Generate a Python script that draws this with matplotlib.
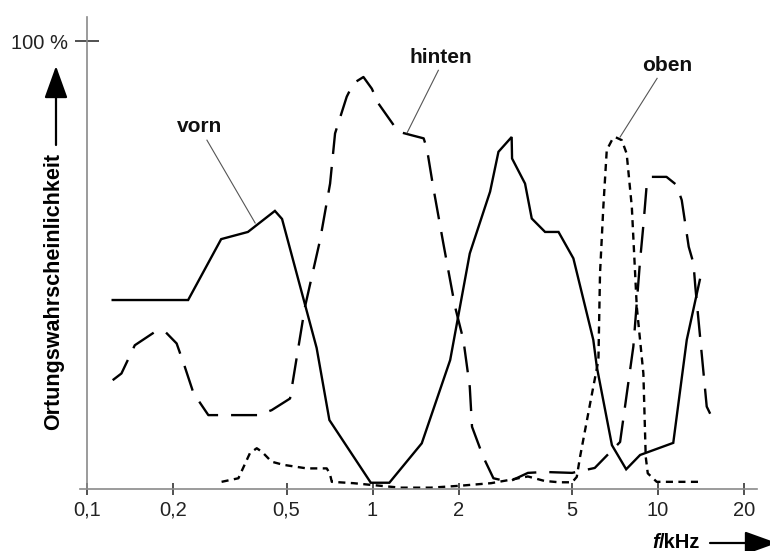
import matplotlib
matplotlib.use("Agg")
import matplotlib.pyplot as plt
from matplotlib.ticker import FixedLocator, NullLocator

plt.rcParams['font.family'] = ['Liberation Sans', 'DejaVu Sans']

# frequency in kHz, probability in %
vorn_f = [0.123, 0.226, 0.295, 0.366, 0.455, 0.482, 0.637, 0.706, 0.986, 1.145,
          1.487, 1.87, 2.19, 2.58, 2.76, 3.07, 3.08, 3.42, 3.61, 4.02,
          4.48, 5.05, 5.93, 6.10, 6.89, 7.73, 8.65, 11.3, 12.6, 14.0]
vorn_v = [42.2, 42.2, 55.8, 57.4, 62.1, 60.3, 31.5, 15.4, 1.4, 1.4,
          10.2, 28.8, 52.6, 66.4, 75.3, 78.6, 73.8, 68.2, 60.4, 57.4,
          57.4, 51.5, 33.3, 27.3, 9.8, 4.4, 7.6, 10.3, 33.3, 46.7]

hinten_f = [0.123, 0.132, 0.147, 0.173, 0.188, 0.206, 0.220, 0.236, 0.266, 0.398,
            0.443, 0.514, 0.58, 0.655, 0.71, 0.739, 0.812, 0.857, 0.929, 0.994,
            1.048, 1.23, 1.37, 1.51, 1.55, 1.63, 1.77, 1.945, 2.08, 2.19,
            2.23, 2.44, 2.65, 3.0, 3.5, 4.0, 5.0, 6.0, 7.36, 8.19,
            8.65, 8.88, 9.13, 9.5, 10.7, 11.6, 12.1, 12.8, 13.3, 13.5,
            14.8, 15.3]
hinten_v = [24.3, 25.8, 32.1, 35.1, 35.1, 32.5, 27.3, 21.4, 16.5, 16.5,
            17.6, 20.2, 40.7, 55.6, 68.2, 79.4, 87.6, 90.6, 92.0, 89.4,
            86.1, 79.8, 79.0, 78.3, 76.0, 67.5, 54.8, 40.7, 33.3, 22.8,
            13.9, 7.2, 2.4, 1.6, 3.6, 3.8, 3.6, 4.7, 10.5, 31.8,
            51.1, 58.9, 68.2, 69.7, 69.7, 67.9, 64.5, 54.1, 50.4, 45.2,
            18.4, 16.5]

oben_f = [0.296, 0.339, 0.358, 0.372, 0.393, 0.41, 0.443, 0.487, 0.588, 0.691,
          0.708, 0.72, 0.857, 0.994, 1.25, 1.6, 2.0, 2.6, 3.0, 3.5,
          4.0, 4.5, 5.0, 5.19, 5.33, 5.78, 6.18, 6.26, 6.43, 6.61,
          6.89, 7.07, 7.46, 7.76, 8.09, 8.42, 8.88, 9.05, 9.2, 9.89,
          11.0, 14.0]
oben_v = [1.6, 2.4, 5.7, 8.0, 9.1, 8.3, 6.1, 5.4, 4.6, 4.6,
          3.5, 1.6, 1.3, 0.9, 0.3, 0.3, 0.7, 1.3, 2.0, 2.8,
          1.8, 1.5, 1.5, 2.7, 7.2, 19.1, 28.8, 48.1, 63.0, 75.7,
          77.9, 78.6, 77.9, 74.9, 63.0, 40.7, 25.8, 7.2, 3.5, 1.6,
          1.6, 1.6]

xticks = [0.1, 0.2, 0.5, 1, 2, 5, 10, 20]
xlabels = ['0,1', '0,2', '0,5', '1', '2', '5', '10', '20']

fig = plt.figure(figsize=(7.7, 5.51), dpi=100)
ax = fig.add_axes([80/770, 62/551, 677/770, 472/551])

lw = 1.7
ax.plot(vorn_f, vorn_v, color='black', lw=lw, solid_joinstyle='miter')
ax.plot(hinten_f, hinten_v, color='black', lw=lw, dashes=(11, 5.5))
ax.plot(oben_f, oben_v, color='black', lw=lw, dashes=(3.0, 2.3))

ax.set_xscale('log')
ax.set_xlim(0.0945, 22.2)
ax.set_ylim(0, 105.4)

axcol = '#8a8a8a'
for s in ['top', 'right']:
    ax.spines[s].set_visible(False)
ax.spines['left'].set_position(('data', 0.1))
ax.spines['left'].set_color(axcol)
ax.spines['bottom'].set_color(axcol)
ax.spines['left'].set_linewidth(1.2)
ax.spines['bottom'].set_linewidth(1.2)

ax.xaxis.set_major_locator(FixedLocator(xticks))
ax.xaxis.set_minor_locator(NullLocator())
ax.set_xticklabels(xlabels)
ax.set_yticks([100])
ax.set_yticklabels(['100 %'])
ax.tick_params(axis='x', direction='inout', length=9, width=1.2, color='#333333',
               labelsize=14.5, labelcolor='#222222', pad=4)
ax.tick_params(axis='y', direction='inout', length=17, width=1.2, color='#333333',
               labelsize=14.5, labelcolor='#222222', pad=5)

# curve labels with leader lines
lab = dict(fontsize=15, fontweight='bold', ha='center', va='center', color='#111111')
ax.text(0.247, 81.0, 'vorn', **lab)
ax.plot([0.263, 0.388], [77.9, 59.4], color='#555555', lw=0.8)
ax.text(1.74, 96.4, 'hinten', **lab)
ax.plot([1.70, 1.32], [93.5, 79.5], color='#555555', lw=0.8)
ax.text(10.75, 94.6, 'oben', **lab)
ax.plot([9.92, 7.36], [91.7, 78.6], color='#555555', lw=0.8)

# axis titles with arrows
fig.text(54/770, 1 - 291.5/551, 'Ortungswahrscheinlichkeit', rotation=90,
         fontsize=15.5, fontweight='bold', ha='center', va='center')
ax.annotate('', xy=(56, 551 - 66), xytext=(56, 551 - 145), xycoords='figure pixels',
            textcoords='figure pixels',
            arrowprops=dict(arrowstyle='-|>,head_length=1.0,head_width=0.36',
                            mutation_scale=20, color='black', lw=1.6,
                            shrinkA=0, shrinkB=0))

fig.text(659/770, 1 - 543/551, 'f', fontsize=14.5, fontweight='bold', fontstyle='italic',
         ha='right', va='center')
fig.text(659/770, 1 - 543/551, '/kHz', fontsize=14.5, fontweight='bold',
         ha='left', va='center')
ax.annotate('', xy=(777, 551 - 543), xytext=(710, 551 - 543), xycoords='figure pixels',
            textcoords='figure pixels',
            arrowprops=dict(arrowstyle='-|>,head_length=1.0,head_width=0.36',
                            mutation_scale=20, color='black', lw=1.6,
                            shrinkA=0, shrinkB=0))

fig.savefig('out.png', dpi=100)
